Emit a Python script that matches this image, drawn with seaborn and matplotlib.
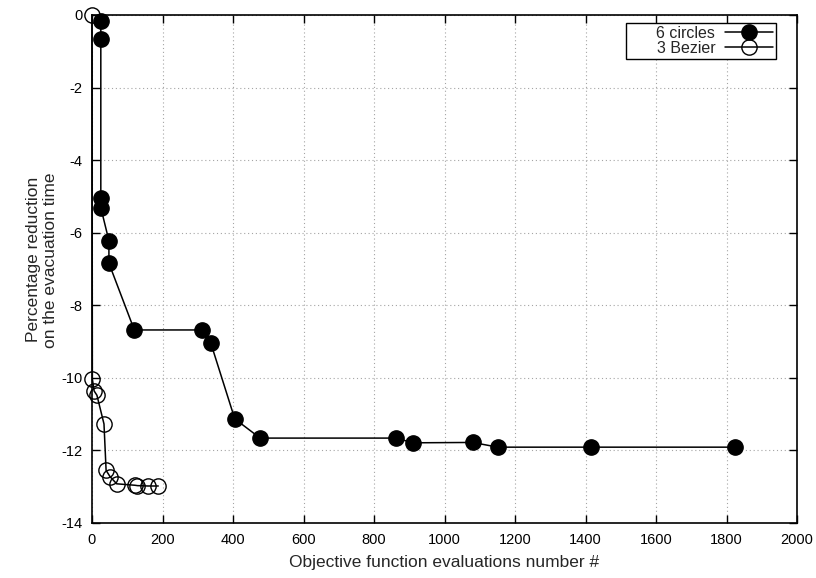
import numpy as np
import pandas as pd
import matplotlib
matplotlib.use("Agg")
import matplotlib.pyplot as plt
import seaborn as sns

# ── Data ──────────────────────────────────────────────────────────────────────
circles_evals = [25, 25, 25, 25, 48, 48, 120, 312, 337, 405, 477,
                 862, 911, 1080, 1151, 1415, 1824]
circles_reduction = [-0.16, -0.67, -5.05, -5.31, -6.22, -6.84, -8.68, -8.68,
                     -9.04, -11.13, -11.66, -11.66, -11.79, -11.78, -11.91,
                     -11.91, -11.91]

bezier_evals = [0, 1, 6, 14, 34, 40, 51, 70, 122, 129, 158, 188]
bezier_reduction = [0.0, -10.03, -10.36, -10.48, -11.27, -12.55, -12.72,
                    -12.92, -12.96, -12.97, -12.98, -12.98]

x_ticks = [0, 200, 400, 600, 800, 1000, 1200, 1400, 1600, 1800, 2000]
y_ticks = [0, -2, -4, -6, -8, -10, -12, -14]

sns.set_style("ticks")
plt.rcParams["font.family"] = ["Liberation Sans", "DejaVu Sans"]
plt.rcParams["axes.unicode_minus"] = False

fig = plt.figure(figsize=(8.16, 5.78), dpi=100)
ax = fig.add_axes([92 / 816, 1 - 523 / 578, 705 / 816, 508 / 578])

df_c = pd.DataFrame({"evals": circles_evals, "reduction": circles_reduction})
df_b = pd.DataFrame({"evals": bezier_evals, "reduction": bezier_reduction})

# gnuplot-style linespoints: filled vs hollow circles
sns.lineplot(data=df_c, x="evals", y="reduction", sort=False, estimator=None,
             color="black", linewidth=1.1, marker="o", markersize=11,
             markerfacecolor="black", markeredgecolor="black",
             markeredgewidth=1.0, label="      6 circles", ax=ax, zorder=3,
             clip_on=False)
sns.lineplot(data=df_b, x="evals", y="reduction", sort=False, estimator=None,
             color="black", linewidth=1.1, marker="o", markersize=11,
             markerfacecolor="none", markeredgecolor="black",
             markeredgewidth=1.0, label="      3 Bezier", ax=ax, zorder=3,
             clip_on=False)

ax.set_xlim(0, 2000)
ax.set_ylim(-14, 0)
ax.set_xticks(x_ticks)
ax.set_yticks(y_ticks)
ax.tick_params(direction="in", length=6, width=1, top=True, right=True,
               labelsize=10.5, pad=7, colors="black")
ax.grid(True, color="#a5a5a5", linestyle=(0, (1, 2.5)), linewidth=0.8)
for s in ax.spines.values():
    s.set_linewidth(1.2)
    s.set_color("black")

ax.set_xlabel("Objective function evaluations number #", fontsize=12.5,
              labelpad=6)
ax.set_ylabel("Percentage reduction\non the evacuation time", fontsize=12.5)
ax.yaxis.set_label_coords(-0.048, 0.518)

leg = ax.legend(loc="upper right", bbox_to_anchor=(0.970, 0.985),
                borderaxespad=0, markerfirst=False, fontsize=11.5,
                handlelength=3.0, handletextpad=0.6, labelspacing=0.0,
                borderpad=0.2, fancybox=False, framealpha=1,
                edgecolor="black")
leg.get_frame().set_linewidth(1.0)

plt.savefig("out.png", dpi=100)
plt.close()
